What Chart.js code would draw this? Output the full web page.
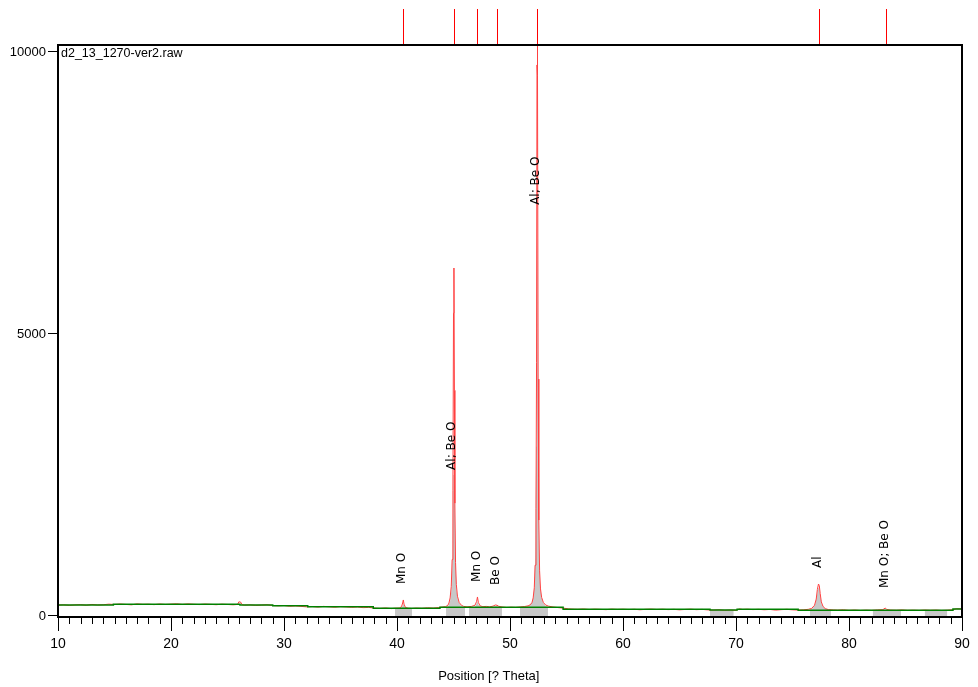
<!DOCTYPE html>
<html>
<head>
<meta charset="utf-8">
<script src="https://cdn.jsdelivr.net/npm/chart.js@4/dist/chart.umd.min.js"></script>
<style>
  html, body { margin: 0; padding: 0; background: #ffffff; }
  #wrap { width: 978px; height: 687px; position: relative; }
</style>
</head>
<body>
<div id="wrap"><canvas id="c" width="978" height="687"></canvas></div>
<script>
// ---------- data ----------
const fileName = "d2_13_1270-ver2.raw";
const xTitle = "Position [? Theta]";
const yTickValues = [0, 5000, 10000];

// observed pattern (2Theta, counts)
const obsX = [10.0,10.5,11.0,11.5,12.0,12.5,13.0,13.5,14.0,14.5,15.0,15.5,16.0,16.5,17.0,17.5,18.0,18.5,19.0,19.5,
  20.0,20.5,21.0,21.5,22.0,22.5,23.0,23.5,24.0,24.5,25.0,25.5,25.9,26.0,26.15,26.3,26.5,27.0,27.5,28.0,28.5,29.0,29.5,
  30.0,30.5,31.0,31.5,32.0,32.5,33.0,33.5,34.0,34.5,35.0,35.5,36.0,36.5,37.0,37.5,38.0,38.5,39.0,39.5,39.8,
  40.2,40.4,40.5,40.56,40.62,40.75,41.0,41.3,41.7,42.2,42.7,43.2,43.7,44.0,44.3,
  44.5,44.6,44.7,44.8,44.88,44.95,45.0,45.04,45.08,45.12,45.18,45.25,45.35,45.5,45.7,45.9,46.2,46.6,46.9,47.05,47.12,47.2,47.35,47.6,47.9,
  48.2,48.5,48.7,48.85,49.0,49.3,49.7,50.1,50.5,50.9,51.3,51.6,51.8,51.95,52.05,52.15,52.22,52.3,52.35,52.39,52.42,52.45,52.49,52.55,52.62,52.7,52.8,52.95,53.15,53.4,53.8,
  54.2,54.7,55.2,55.7,56.0,56.5,57.0,57.5,58.0,58.5,59.0,59.5,60.0,60.5,61.0,61.5,62.0,62.5,63.0,63.5,64.0,64.5,65.0,65.5,66.0,66.5,67.0,67.5,
  68.0,68.5,69.0,69.5,70.0,70.3,70.6,71.0,71.5,72.0,72.5,73.0,73.5,74.0,74.5,75.0,75.5,76.0,76.4,76.7,76.95,77.1,77.2,77.3,77.37,77.45,77.55,77.7,77.9,
  78.2,78.6,79.0,79.5,80.0,80.5,81.0,81.5,82.0,82.5,83.0,83.2,83.35,83.7,84.2,84.7,85.2,85.7,86.2,86.7,87.2,87.7,88.2,88.7,89.2,89.5,90.0];
const obsY = [192,198,188,196,201,190,205,194,199,210,203,212,205,198,214,206,209,201,212,204,
  210,216,205,214,208,202,211,206,200,209,204,198,205,250,248,199,192,197,188,193,199,185,180,
  186,172,178,170,162,168,158,170,163,155,166,160,153,159,148,152,140,134,142,131,138,
  140,165,230,284,210,150,138,133,140,136,145,140,150,158,165,
  190,230,320,520,1000,2230,5370,6170,4000,2000,950,560,350,240,190,170,162,170,190,260,337,240,180,165,170,
  162,175,195,190,172,160,150,156,152,160,168,180,200,240,320,500,900,1900,4500,9770,10500,9590,4200,1700,800,480,330,240,195,175,160,
  150,140,125,120,118,124,115,121,117,112,122,116,120,114,119,110,118,122,115,120,113,118,109,116,121,112,117,108,
  104,110,100,106,99,125,116,120,113,118,110,116,104,112,118,109,105,110,118,135,190,300,470,567,540,400,250,170,130,
  112,108,104,110,100,106,98,104,100,108,112,140,115,105,102,108,100,104,99,106,101,105,98,103,110,128,125];

// background curve (stepped)
const bgX = [10.0,14.9,26.1,29.0,32.1,37.9,43.8,54.7,67.7,70.1,75.5,89.2,90.0];
const bgY = [195,207,195,183,165,136,154,119,105,119,103,124,124];

// fitted profile + background regions (null separates regions)
const fitX = [39.82,40.3,40.45,40.56,40.67,40.85,41.33,41.4,
  44.34,44.55,44.7,44.82,44.92,44.98,45.04,45.1,45.17,45.27,45.4,45.6,45.8,46.02,46.1,
  46.37,46.9,47.05,47.12,47.2,47.4,48.5,48.75,48.9,49.29,49.4,
  50.88,51.4,51.7,51.9,52.05,52.15,52.24,52.32,52.38,52.44,52.5,52.57,52.66,52.78,52.95,53.15,53.36,53.5,
  67.7,69.8,69.9,
  76.55,76.8,77.0,77.15,77.27,77.37,77.48,77.6,77.8,78.1,78.4,78.5,
  82.1,83.0,83.2,83.4,84.6,84.7,
  86.7,88.7];
const fitY = [136,138,160,215,160,140,136,null,
  154,180,260,480,1100,2500,4130,2400,1000,450,270,195,170,154,null,
  154,165,220,260,200,160,160,180,170,154,null,
  154,165,185,230,320,520,1100,3000,6900,6000,2600,1100,560,330,230,180,160,null,
  105,105,null,
  115,140,210,340,500,480,330,200,140,118,115,null,
  101,103,120,103,101,null,
  101,101];

// reference pattern positions (top sticks)
const refPositions = [40.56, 45.06, 47.10, 48.88, 52.42, 77.38, 83.29];

// peak labels
const peakLabelText = ["Mn O", "Al; Be O", "Mn O", "Be O", "Al; Be O", "Al", "Mn O; Be O"];
const peakLabelX = [40.44, 44.87, 47.08, 48.76, 52.30, 77.26, 83.19];
const peakLabelY = [567, 2590, 603, 550, 7290, 851, 496];

// ---------- chart ----------
const toPts = (xs, ys) => xs.map((x, i) => ({ x: x, y: ys[i] }));
const SANS = '"Liberation Sans", Arial, sans-serif';

const decor = {
  id: 'decor',
  afterDraw(chart) {
    const ctx = chart.ctx;
    const xs = chart.scales.x, ys = chart.scales.y, a = chart.chartArea;
    ctx.save();
    // minor x ticks
    ctx.strokeStyle = '#000';
    ctx.lineWidth = 1;
    ctx.beginPath();
    for (let v = xs.min + 1; v < xs.max; v++) {
      if (v % 10 === 0) continue;
      const px = Math.round(xs.getPixelForValue(v)) + 0.5;
      ctx.moveTo(px, a.bottom);
      ctx.lineTo(px, a.bottom + 7);
    }
    ctx.stroke();
    // reference sticks above the plot
    ctx.strokeStyle = '#ff0000';
    ctx.beginPath();
    refPositions.forEach(p => {
      const px = Math.round(xs.getPixelForValue(p)) + 0.5;
      ctx.moveTo(px, a.top - 36);
      ctx.lineTo(px, a.top);
    });
    ctx.stroke();
    // peak labels
    ctx.fillStyle = '#000';
    ctx.font = '12px "DejaVu Sans", Verdana, sans-serif';
    ctx.textAlign = 'left';
    ctx.textBaseline = 'middle';
    peakLabelText.forEach((t, i) => {
      const px = xs.getPixelForValue(peakLabelX[i]);
      const py = ys.getPixelForValue(peakLabelY[i]);
      ctx.save();
      ctx.translate(px, py);
      ctx.rotate(-Math.PI / 2);
      ctx.fillText(t, 0, 0);
      ctx.restore();
    });
    // frame
    ctx.strokeStyle = '#000';
    ctx.lineWidth = 2;
    ctx.strokeRect(a.left, a.top, a.right - a.left, a.bottom - a.top);
    // file name
    ctx.font = '12.5px ' + SANS;
    ctx.textBaseline = 'top';
    ctx.fillText(fileName, a.left + 3, a.top + 2);
    // x axis title
    ctx.font = '13px ' + SANS;
    ctx.textAlign = 'center';
    ctx.textBaseline = 'middle';
    ctx.fillText(xTitle, a.left + (a.right - a.left) * 0.4765, 676);
    ctx.restore();
  }
};

new Chart(document.getElementById('c'), {
  type: 'line',
  data: {
    datasets: [
      {
        label: 'background',
        data: toPts(bgX, bgY),
        borderColor: '#008000',
        borderWidth: 1.5,
        pointRadius: 0,
        stepped: 'before',
        fill: false,
        order: 0
      },
      {
        label: 'observed',
        data: toPts(obsX, obsY),
        borderColor: '#ff4040',
        borderWidth: 1,
        pointRadius: 0,
        tension: 0,
        fill: false,
        order: 1
      },
      {
        label: 'profile',
        data: toPts(fitX, fitY),
        borderColor: 'rgba(0,0,0,0)',
        borderWidth: 0,
        backgroundColor: '#c8c8c8',
        pointRadius: 0,
        spanGaps: false,
        fill: 'start',
        order: 2
      }
    ]
  },
  options: {
    responsive: false,
    animation: false,
    devicePixelRatio: 1,
    layout: { padding: { top: 45, right: 16, left: 0, bottom: 0 } },
    plugins: { legend: { display: false }, tooltip: { enabled: false } },
    scales: {
      x: {
        type: 'linear',
        min: 10, max: 90,
        border: { display: false },
        grid: { drawOnChartArea: false, drawTicks: true, tickLength: 14, color: '#000', tickColor: '#000' },
        ticks: { stepSize: 10, color: '#000', font: { family: SANS, size: 14 }, padding: 5, maxRotation: 0 },
        title: { display: false },
        afterFit(s) { s.height = 70; }
      },
      y: {
        type: 'linear',
        min: -18, max: 10124,
        border: { display: false },
        grid: { drawOnChartArea: false, drawTicks: true, tickLength: 10, color: '#000', tickColor: '#000' },
        ticks: { color: '#000', font: { family: SANS, size: 13 }, padding: 2, callback: v => String(v) },
        afterBuildTicks(s) { s.ticks = yTickValues.map(v => ({ value: v })); },
        afterFit(s) { s.width = 58; }
      }
    }
  },
  plugins: [decor]
});
</script>
</body>
</html>
